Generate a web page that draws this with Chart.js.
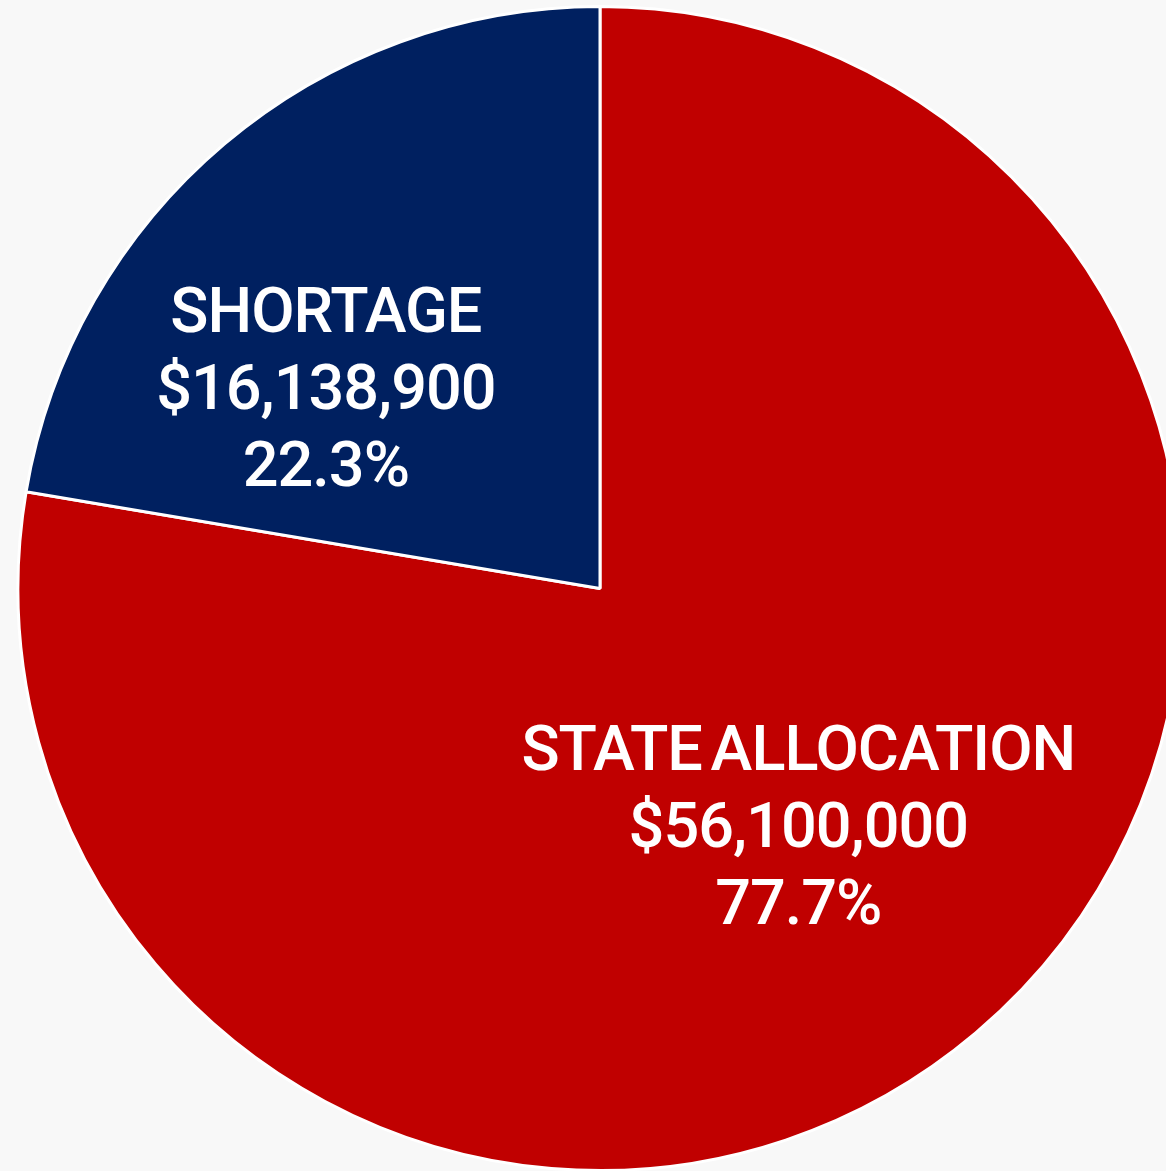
<!DOCTYPE html>
<html>
<head>
<meta charset="utf-8">
<script src="https://cdn.jsdelivr.net/npm/chart.js@4.4.0/dist/chart.umd.min.js"></script>
<style>
  html, body { margin: 0; padding: 0; background: #f8f8f8; overflow: hidden; }
  #wrap { position: absolute; left: 0; top: 0; width: 1200px; height: 1180px; }
</style>
</head>
<body>
<div id="wrap"><canvas id="myChart" width="1200" height="1180"></canvas></div>
<script>
var labels = ['STATE ALLOCATION', 'SHORTAGE'];
var amounts = [56100000, 16138900];
var colors = ['#c00000', '#002060'];
// where each label block sits: angle shift (deg) from slice middle, fraction of radius
var labelShift = [0.2, -13.4];
var labelDist = [0.53, 0.585];

var fmtMoney = function (v) {
    return '$' + v.toLocaleString('en-US');
}

var sliceLabels = {
    id: 'sliceLabels',
    afterDatasetsDraw: function (chart) {
        var ctx = chart.ctx;
        var meta = chart.getDatasetMeta(0);
        var total = amounts.reduce(function (a, b) { return a + b; }, 0);
        ctx.save();
        ctx.fillStyle = '#ffffff';
        ctx.textAlign = 'center';
        ctx.textBaseline = 'middle';
        ctx.font = '500 63px Roboto, "Liberation Sans", sans-serif';
        ctx.letterSpacing = '-1px';
        ctx.wordSpacing = '-6px';
        meta.data.forEach(function (arc, i) {
            var p = arc.getProps(['x', 'y', 'startAngle', 'endAngle', 'outerRadius']);
            var a = (p.startAngle + p.endAngle) / 2 + labelShift[i] * Math.PI / 180;
            var r = p.outerRadius * labelDist[i];
            var cx = p.x + Math.cos(a) * r;
            var cy = p.y + Math.sin(a) * r + 7;
            var lines = [labels[i], fmtMoney(amounts[i]), (amounts[i] / total * 100).toFixed(1) + '%'];
            var lh = 77;
            lines.forEach(function (t, j) {
                ctx.fillText(t, cx, cy + (j - 1) * lh);
            });
        });
        ctx.restore();
    }
};

new Chart(document.getElementById('myChart'), {
    type: 'pie',
    data: {
        labels: labels,
        datasets: [{
            data: amounts,
            backgroundColor: colors,
            borderColor: '#ffffff',
            borderWidth: 3
        }]
    },
    options: {
        responsive: false,
        animation: false,
        layout: { padding: { top: 5, bottom: 8, left: 0, right: 0 } },
        plugins: {
            legend: { display: false },
            tooltip: { enabled: false }
        }
    },
    plugins: [sliceLabels]
});
</script>
</body>
</html>
